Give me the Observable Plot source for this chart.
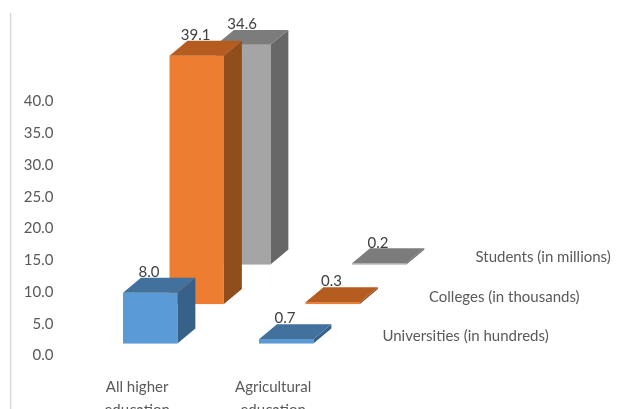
<!DOCTYPE html>
<html>
<head>
<meta charset="utf-8">
<script src="https://cdn.jsdelivr.net/npm/d3@7"></script>
<script src="https://cdn.jsdelivr.net/npm/@observablehq/plot@0.6"></script>
<style>
html,body{margin:0;padding:0;background:#fff;overflow:hidden}
svg{display:block;filter:blur(0.35px)}
</style>
</head>
<body>
<div id="chart"></div>
<script>
const categories = ["All higher\neducation", "Agricultural\neducation"];
const seriesNames = ["Students (in millions)", "Colleges (in thousands)", "Universities (in hundreds)"];
const students = [34.6, 0.2];
const colleges = [39.1, 0.3];
const universities = [8.0, 0.7];
const seriesValues = [students, colleges, universities];
const yTicks = [0, 5, 10, 15, 20, 25, 30, 35, 40];
const frontColors = ["#a5a5a5", "#ed7d31", "#5b9bd5"];
const topColors = ["#7c7c7c", "#b55d20", "#41719c"];
const sideColors = ["#676767", "#8f4e1b", "#386189"];

// oblique projection, in chart units (x: categories, y: value units)
const barW = 0.4, depthX = 0.132, depthY = 2.36;
const stepX = 0.342, stepY = 6.22, floorY = 1.8;

const marks = [
  Plot.ruleX([-0.83], {y1: -8.5, y2: 53.9, stroke: "#d9d9d9", strokeWidth: 1.5}),
  Plot.axisY({ticks: yTicks, tickFormat: d3.format(".1f"), tickSize: 0, tickPadding: 7, label: null,
    fontSize: 15, color: "#595959", fill: "#595959"})
];

seriesValues.forEach((values, s) => {
  const rank = 2 - s;
  const x0 = rank * stepX, y0 = floorY + rank * stepY;
  const bars = values.map((v, c) => ({c, v, x1: c + x0, x2: c + x0 + barW, y1: y0, y2: y0 + v}));
  const side = bars.flatMap(b => [
    {c: b.c, x: b.x2, y1: b.y1, y2: b.y2},
    {c: b.c, x: b.x2 + depthX, y1: b.y1 + depthY, y2: b.y2 + depthY}
  ]);
  const top = bars.flatMap(b => [
    {c: b.c, y: b.y2, x1: b.x1, x2: b.x2},
    {c: b.c, y: b.y2 + depthY, x1: b.x1 + depthX, x2: b.x2 + depthX}
  ]);
  marks.push(
    Plot.areaY(side, {x: "x", y1: "y1", y2: "y2", z: "c", fill: sideColors[s], curve: "linear"}),
    Plot.rect(bars, {x1: "x1", x2: "x2", y1: "y1", y2: "y2", fill: frontColors[s]}),
    Plot.areaX(top, {y: "y", x1: "x1", x2: "x2", z: "c", fill: topColors[s], curve: "linear"})
  );
});

// value labels on top of every bar
seriesValues.forEach((values, s) => {
  const rank = 2 - s;
  const rows = values.map((v, c) => ({
    v, x: c + rank * stepX + barW / 2 - 0.012, y: floorY + rank * stepY + v + depthY
  }));
  marks.push(Plot.text(rows, {x: "x", y: "y", text: d => d.v.toFixed(1), dy: -6,
    fill: "#404040", fontSize: 15}));
});

// series names along the depth axis
marks.push(Plot.text(seriesNames.map((n, s) => ({
  n, x: 1.904 + (2 - s) * stepX, y: 2.99 + (2 - s) * stepY
})), {x: "x", y: "y", text: "n", textAnchor: "start", fill: "#595959", fontSize: 15}));

// category names below the front row
marks.push(Plot.text(categories.map((n, c) => ({n, x: c + 0.1})), {
  x: "x", y: () => -6.4, text: "n", lineHeight: 1.53, lineAnchor: "middle",
  fill: "#595959", fontSize: 15
}));

const chart = Plot.plot({
  width: 620,
  height: 409,
  marginLeft: 60,
  marginTop: 0,
  marginRight: 0,
  marginBottom: 0,
  style: {fontFamily: "Lato, sans-serif", background: "#fff"},
  x: {domain: [0, 1], range: [123, 259], axis: null},
  y: {domain: [0, 40], range: [355, 101], axis: null},
  marks
});
document.getElementById("chart").appendChild(chart);
</script>
</body>
</html>
